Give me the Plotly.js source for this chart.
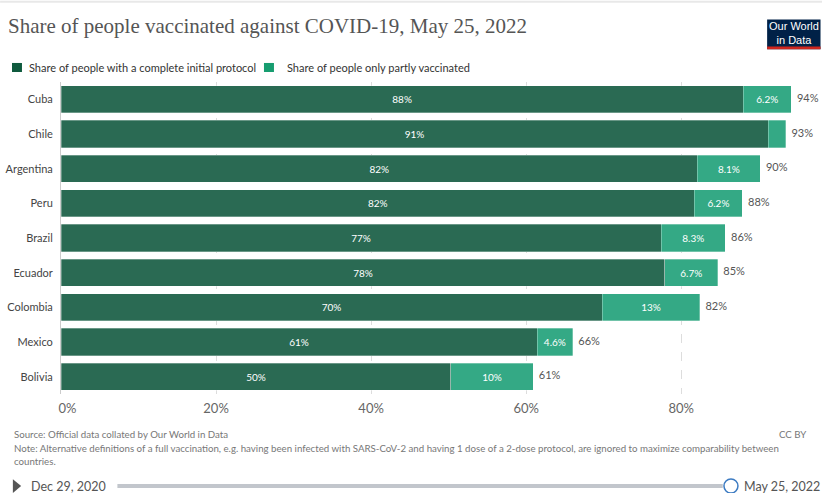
<!DOCTYPE html>
<html>
<head>
<meta charset="utf-8">
<script src="https://cdn.plot.ly/plotly-3.0.1.min.js"></script>
<style>html,body{margin:0;padding:0;background:#fff;}#chart{width:822px;height:493px;}</style>
</head>
<body>
<div id="chart"></div>
<script>
const countries = ["Cuba","Chile","Argentina","Peru","Brazil","Ecuador","Colombia","Mexico","Bolivia"];
const complete = [88.0, 91.2, 82.1, 81.7, 77.4, 77.9, 69.8, 61.4, 50.3];
const partial = [6.2, 2.3, 8.1, 6.2, 8.3, 6.8, 12.6, 4.6, 10.6];
const completeLabels = ["88%","91%","82%","82%","77%","78%","70%","61%","50%"];
const partialLabels = ["6.2%","","8.1%","6.2%","8.3%","6.7%","13%","4.6%","10%"];
const totalLabels = ["94%","93%","90%","88%","86%","85%","82%","66%","61%"];
const seriesNames = ["Share of people with a complete initial protocol","Share of people only partly vaccinated"];
const xTicks = [0,20,40,60,80];
const xTickLabels = ["\u2002\u20020%","20%","40%","60%","80%"];

const totals = complete.map((v,i)=>v+partial[i]);
const FONT = "Lato, 'Open Sans', sans-serif";
const DARK = "#2a6a53", LIGHT = "#34a985";

const traces = [
  {type:"bar", orientation:"h", name:seriesNames[0],
   y:countries, x:complete, text:completeLabels, textposition:"inside", insidetextanchor:"middle",
   textfont:{color:"#ffffff", size:10, family:FONT}, constraintext:"none",
   marker:{color:DARK, line:{color:"rgba(255,255,255,0.5)", width:0.6}}, hoverinfo:"skip"},
  {type:"bar", orientation:"h", name:seriesNames[1],
   y:countries, x:partial, text:partialLabels, textposition:"inside", insidetextanchor:"middle",
   textfont:{color:"#ffffff", size:10, family:FONT}, constraintext:"none",
   marker:{color:LIGHT, line:{color:"rgba(255,255,255,0.5)", width:0.6}}, hoverinfo:"skip"},
  {type:"scatter", mode:"text", y:countries, x:totals, text:totalLabels.map(t=>"  "+t),
   textposition:"middle right", textfont:{color:"#555", size:11, family:FONT},
   showlegend:false, hoverinfo:"skip", cliponaxis:false}
];

const layout = {
  width:822, height:493,
  margin:{l:61, r:9, t:82, b:99, pad:0, autoexpand:false},
  paper_bgcolor:"#fff", plot_bgcolor:"#fff",
  barmode:"stack", bargap:0.22,
  font:{family:FONT, color:"#555"},
  title:{text:"Share of people vaccinated against COVID-19, May 25, 2022",
    font:{family:"'Liberation Serif', 'DejaVu Serif', serif", size:21, color:"#555"},
    x:0.0097, xanchor:"left", y:0.947, yanchor:"middle", xref:"container", yref:"container"},
  xaxis:{range:[0,97], tickvals:xTicks, ticktext:xTickLabels, showgrid:true, automargin:false,
    gridcolor:"#dddddd", griddash:"dash", gridwidth:1, zeroline:false, showline:false,
    ticks:"", tickfont:{size:13, color:"#666", family:FONT}, ticklabelstandoff:5, fixedrange:true},
  yaxis:{categoryorder:"array", categoryarray:countries, autorange:"reversed", automargin:false,
    showline:true, linecolor:"#cccccc", linewidth:1, ticks:"", showgrid:false,
    tickfont:{size:11, color:"#444", family:FONT}, ticklabelstandoff:5, fixedrange:true},
  showlegend:false,
  shapes:[
    {type:"line", xref:"paper", yref:"paper", x0:-0.081, x1:1.012, y0:1.257, y1:1.257, line:{color:"#e8e8e8", width:2}},
    {type:"rect", xref:"paper", yref:"paper", x0:0.939, x1:1.01, y0:1.105, y1:1.2, fillcolor:"#002147", line:{width:0}},
    {type:"rect", xref:"paper", yref:"paper", x0:0.939, x1:1.01, y0:1.105, y1:1.114, fillcolor:"#ce261e", line:{width:0}},
    {type:"rect", xref:"paper", yref:"paper", x0:-0.0652, x1:-0.0519, y0:1.032, y1:1.061, fillcolor:"#0f5a3e", line:{width:0}},
    {type:"rect", xref:"paper", yref:"paper", x0:0.2699, x1:0.2832, y0:1.032, y1:1.061, fillcolor:"#179d70", line:{width:0}},
    {type:"path", xref:"paper", yref:"paper", path:"M -0.064 -0.273 L -0.053 -0.295 L -0.064 -0.317 Z", fillcolor:"#555", line:{width:0}},
    {type:"line", xref:"paper", yref:"paper", x0:0.075, x1:0.88, y0:-0.295, y1:-0.295, line:{color:"#c2c6cc", width:4}},
    {type:"circle", xref:"paper", yref:"paper", x0:0.8816, x1:0.9002, y0:-0.3175, y1:-0.2725, fillcolor:"#fff", line:{color:"#3c7bc2", width:1.5}}
  ],
  annotations:[
    {text:seriesNames[0], xref:"paper", yref:"paper", x:-0.0452, y:1.047, xanchor:"left", yanchor:"middle",
     showarrow:false, font:{size:11, color:"#333", family:FONT}},
    {text:seriesNames[1], xref:"paper", yref:"paper", x:0.2979, y:1.047, xanchor:"left", yanchor:"middle",
     showarrow:false, font:{size:11, color:"#333", family:FONT}},
    {text:"Our World<br>in Data", xref:"paper", yref:"paper", x:0.9745, y:1.158, xanchor:"center", yanchor:"middle",
     showarrow:false, font:{family:"'Liberation Sans Narrow', 'Liberation Sans', sans-serif", size:11, color:"#fff"}, align:"center"},
    {text:"Source: Official data collated by Our World in Data", xref:"paper", yref:"paper", x:-0.065, y:-0.128,
     xanchor:"left", yanchor:"middle", showarrow:false, font:{size:9.7, color:"#777", family:FONT}},
    {text:"Note: Alternative definitions of a full vaccination, e.g. having been infected with SARS-CoV-2 and having 1 dose of a 2-dose protocol, are ignored to maximize comparability between<br>countries.",
     xref:"paper", yref:"paper", x:-0.065, y:-0.146, xanchor:"left", yanchor:"top", align:"left", showarrow:false,
     font:{size:9.7, color:"#777", family:FONT}},
    {text:"CC BY", xref:"paper", yref:"paper", x:0.995, y:-0.128, xanchor:"right", yanchor:"middle", showarrow:false,
     font:{size:9.7, color:"#777", family:FONT}},
    {text:"Dec 29, 2020", xref:"paper", yref:"paper", x:-0.042, y:-0.295, xanchor:"left", yanchor:"middle", showarrow:false,
     font:{size:12.5, color:"#555", family:FONT}},
    {text:"May 25, 2022", xref:"paper", yref:"paper", x:1.012, y:-0.295, xanchor:"right", yanchor:"middle", showarrow:false,
     font:{size:12.5, color:"#555", family:FONT}}
  ]
};

Plotly.newPlot("chart", traces, layout, {displayModeBar:false, staticPlot:true});
</script>
</body>
</html>
